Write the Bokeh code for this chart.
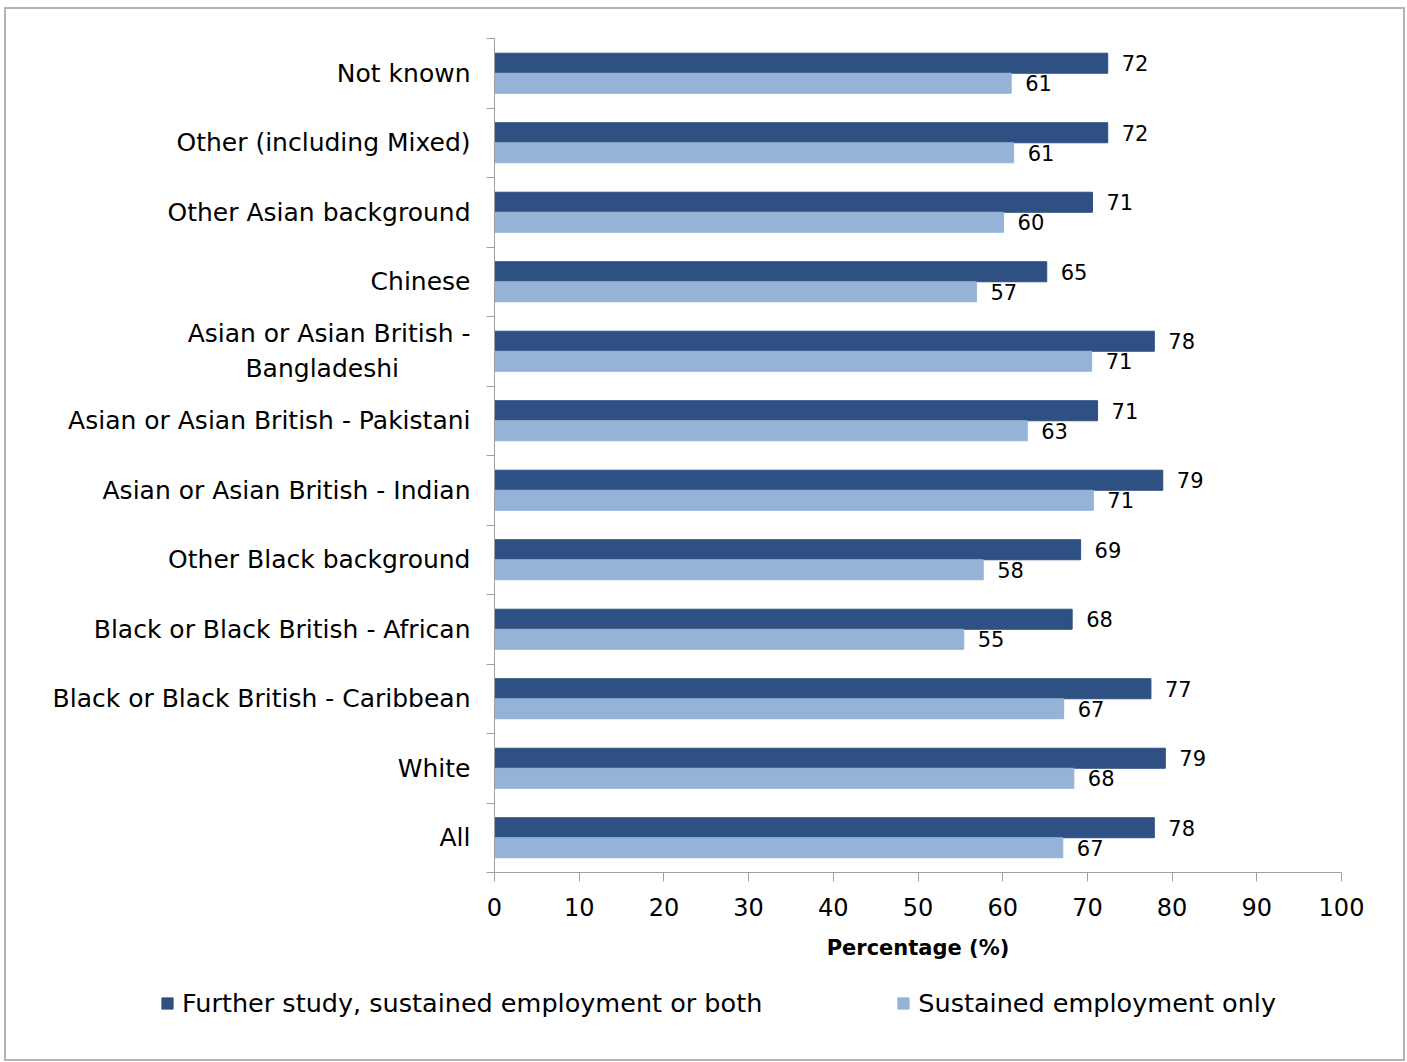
from bokeh.plotting import figure
from bokeh.layouts import column
from bokeh.models import Range1d, FixedTicker, ColumnDataSource, Legend, LegendItem
from bokeh.core.properties import value
from bokeh.embed import file_html
from bokeh.resources import INLINE

NBSP = "\u00a0"

# Categories listed from bottom to top
categories = [
    "All",
    "White",
    "Black or Black British - Caribbean",
    "Black or Black British - African",
    "Other Black background",
    "Asian or Asian British - Indian",
    "Asian or Asian British - Pakistani",
    "Asian or Asian British -\nBangladeshi" + NBSP * 9,
    "Chinese",
    "Other Asian background",
    "Other (including Mixed)",
    "Not known",
]
further_study = [77.9, 79.2, 77.5, 68.2, 69.2, 78.9, 71.2, 77.9, 65.2, 70.6, 72.4, 72.4]
sustained_only = [67.1, 68.4, 67.2, 55.4, 57.7, 70.7, 62.9, 70.5, 56.9, 60.1, 61.3, 61.0]
further_labels = ["78", "79", "77", "68", "69", "79", "71", "78", "65", "71", "72", "72"]
sustained_labels = ["67", "68", "67", "55", "58", "71", "63", "71", "57", "60", "61", "61"]
series_names = ["Further study, sustained employment or both", "Sustained employment only"]
x_ticks = [0, 10, 20, 30, 40, 50, 60, 70, 80, 90, 100]

DARK = "#2f5082"
LIGHT = "#95b3d7"
AXIS = "#a0a0a0"
FONT = "DejaVu Sans"

n = len(categories)
centers = [i + 0.5 for i in range(n)]
bar_h = 0.288
off = 0.144

src = ColumnDataSource(dict(
    yc=centers,
    yd=[c + off for c in centers],
    yl=[c - off for c in centers],
    fs=further_study,
    so=sustained_only,
    fl=further_labels,
    sl=sustained_labels,
))

W = 1397
p = figure(width=W, height=970, output_backend="svg", toolbar_location=None,
           x_range=Range1d(0, 100), y_range=Range1d(0, n),
           min_border_left=488, min_border_right=62, min_border_top=29, min_border_bottom=107)
p.frame_align = False
p.outline_line_color = None
p.grid.visible = False

r1 = p.hbar(y="yd", right="fs", left=0, height=bar_h, source=src, fill_color=DARK, line_color=DARK)
r2 = p.hbar(y="yl", right="so", left=0, height=bar_h, source=src, fill_color=LIGHT, line_color=LIGHT)

p.text(x="fs", y="yd", text="fl", source=src, x_offset=14, text_align="left", text_baseline="middle",
       text_font=value(FONT), text_font_size="21px", text_color="#000000")
p.text(x="so", y="yl", text="sl", source=src, x_offset=14, text_align="left", text_baseline="middle",
       text_font=value(FONT), text_font_size="21px", text_color="#000000")

# x axis
xa = p.xaxis[0]
xa.ticker = FixedTicker(ticks=x_ticks, minor_ticks=[])
xa.axis_line_color = AXIS
xa.major_tick_line_color = AXIS
xa.major_tick_out = 9
xa.major_tick_in = 0
xa.minor_tick_line_color = None
xa.major_label_text_font = FONT
xa.major_label_text_font_size = "24px"
xa.major_label_text_color = "#000000"
xa.major_label_standoff = 16
xa.axis_label = "Percentage (%)"
xa.axis_label_text_font = FONT
xa.axis_label_text_font_size = "21px"
xa.axis_label_text_font_style = "bold"
xa.axis_label_text_color = "#000000"
xa.axis_label_standoff = 17

# y axis: labels at category centres, tick marks at category boundaries
ya = p.yaxis[0]
ya.ticker = FixedTicker(ticks=centers, minor_ticks=list(range(n + 1)))
ya.major_label_overrides = {c: lab for c, lab in zip(centers, categories)}
ya.axis_line_color = AXIS
ya.major_tick_line_color = None
ya.major_tick_out = 0
ya.major_tick_in = 0
ya.minor_tick_line_color = AXIS
ya.minor_tick_out = 8
ya.minor_tick_in = 0
ya.major_label_text_font = FONT
ya.major_label_text_font_size = "25px"
ya.major_label_text_color = "#000000"
ya.major_label_standoff = 16

# legend strip below the chart (its swatch renderers lie outside the strip's visible ranges)
leg = figure(width=W, height=80, output_backend="svg", toolbar_location=None,
             x_range=Range1d(0, 1), y_range=Range1d(0, 1),
             min_border_left=0, min_border_right=0, min_border_top=0, min_border_bottom=0)
leg.frame_align = False
leg.axis.visible = False
leg.grid.visible = False
leg.outline_line_color = None
d1 = leg.hbar(y=[-50], left=[-20], right=[-10], height=0.1, fill_color=DARK, line_color=DARK)
d2 = leg.hbar(y=[-50], left=[-20], right=[-10], height=0.1, fill_color=LIGHT, line_color=LIGHT)
legend = Legend(items=[LegendItem(label=series_names[0], renderers=[d1]),
                       LegendItem(label=series_names[1], renderers=[d2])],
                orientation="horizontal", location=(154, 41),
                glyph_width=14, glyph_height=14, label_standoff=8, spacing=134,
                padding=0, margin=0, border_line_color=None, background_fill_alpha=0,
                label_text_font=FONT, label_text_font_size="25.5px", label_text_color="#000000")
leg.add_layout(legend, "center")

layout = column(p, leg, spacing=0,
                styles={"border": "2px solid #b4b4b4", "margin-left": "4px", "margin-top": "7px"})

open("out.html", "w").write(file_html(layout, INLINE))
